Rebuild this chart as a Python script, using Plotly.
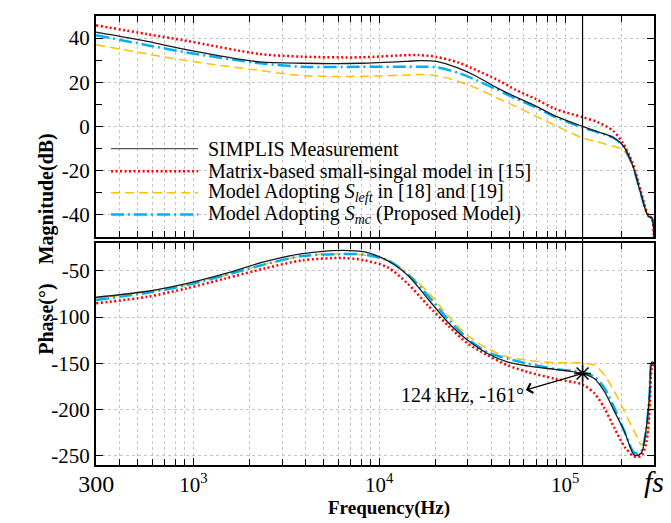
import numpy as np
import plotly.graph_objects as go

# ---------------- data ----------------
freq_mag = [300, 566, 915, 2280, 3870, 7960, 14170, 16400, 20300, 26470, 33650, 42760,
            54460, 69220, 88100, 124000, 149400, 181100, 204300, 230300, 253500, 279000,
            292800, 300000]
mag_simplis = [42.7, 38.5, 34.8, 29.2, 28.6, 28.6, 29.5, 29.8, 29.5, 26.5, 22.5, 17.6,
               13.3, 9.3, 4.8, 0.0, -2.4, -5.0, -8.5, -17.5, -29.5, -40.5, -41.5, -50.0]
mag_matrix = [45.8, 41.8, 38.8, 32.8, 31.6, 31.3, 32.3, 32.3, 31.5, 29.0, 25.3, 21.3,
              16.5, 12.5, 8.0, 4.2, 2.0, -2.0, -7.5, -16.5, -28.5, -40.0, -41.5, -50.0]
mag_sleft = [37.0, 32.8, 29.8, 25.3, 23.0, 22.7, 23.3, 23.5, 23.0, 20.5, 17.2, 13.0,
             9.0, 4.7, 0.5, -5.2, -7.0, -9.0, -10.5, -17.5, -29.5, -40.5, -41.5, -50.0]
mag_smc = [41.3, 36.8, 33.5, 28.6, 27.0, 27.0, 27.0, 27.0, 26.8, 24.3, 20.8, 16.8,
           12.5, 8.7, 4.3, -0.5, -2.6, -5.0, -8.8, -17.5, -29.5, -40.5, -41.5, -50.0]

freq_ph = [300, 566, 915, 1479, 2393, 3870, 6255, 8356, 11100, 14300, 18300, 23400,
           30000, 38400, 49200, 63000, 87800, 124000, 144000, 163000, 184500, 208600,
           236000, 256500, 273000, 284000, 292000, 300000]
ph_simplis = [-78.5, -72.0, -63.7, -52.9, -40.3, -31.3, -27.7, -29.5, -39.0, -55.2, -80.4, -105.5,
              -125.3, -139.6, -148.6, -152.9, -156.5, -161.0, -166.6, -181.0, -202.5, -224.0,
              -249.5, -247.0, -220.0, -184.5, -148.6, -150.0]
ph_matrix = [-85.0, -78.0, -69.0, -58.3, -47.5, -38.5, -36.0, -38.5, -46.2, -64.2, -87.5, -109.0,
             -128.8, -141.4, -152.2, -159.4, -166.6, -173.0, -182.7, -199.0, -220.5, -240.2,
             -251.0, -250.0, -236.0, -202.5, -155.8, -150.0]
ph_sleft = [-79.6, -72.7, -64.7, -54.7, -43.2, -33.8, -31.3, -33.0, -38.5, -53.0, -73.0, -98.3,
            -120.0, -134.2, -143.2, -146.8, -149.3, -149.7, -152.0, -163.0, -181.0, -202.5,
            -224.0, -238.0, -232.0, -205.0, -152.0, -150.0]
ph_smc = [-81.4, -73.7, -65.5, -54.7, -43.2, -33.8, -31.8, -32.4, -38.5, -54.0, -76.8, -101.9,
          -123.5, -138.0, -145.0, -150.4, -156.0, -159.5, -164.7, -177.0, -199.0, -224.0,
          -247.0, -245.0, -220.0, -184.5, -148.6, -150.0]

series_names = ["SIMPLIS Measurement",
                "Matrix-based small-singal model in [15]",
                "Model Adopting <i>S<sub>left</sub></i> in [18] and [19]",
                "Model Adopting <i>S<sub>mc</sub></i> (Proposed Model)"]

mark_freq = 124000
mark_phase = -161
mark_label = "124 kHz, -161°"

x_tickvals = [300, 1000, 10000, 100000, 300000]
x_ticktext = ['<span style="font-size:24px">300</span>', "10<sup>3</sup>", "10<sup>4</sup>",
              "10<sup>5</sup>", '<span style="font-size:30px"><i>fs</i></span>']
x_minor = [400, 500, 600, 700, 800, 900,
           2000, 3000, 4000, 5000, 6000, 7000, 8000, 9000,
           20000, 30000, 40000, 50000, 60000, 70000, 80000, 90000, 200000]
mag_ticks = [-40, -20, 0, 20, 40]
ph_ticks = [-250, -200, -150, -100, -50]

# ---------------- styles ----------------
FONT = "Liberation Serif"
styles = [
    dict(color="#1a1a1a", width=1.3, dash="solid"),
    dict(color="#ff0000", width=2.5, dash="2px,2.5px"),
    dict(color="#ffc000", width=1.5, dash="9px,5px"),
    dict(color="#00b0f0", width=2.5, dash="13px,4px,2px,4px"),
]
legend_colors = ["#555555", "#ff0000", "#ffc000", "#00b0f0"]

fig = go.Figure()
mags = [mag_simplis, mag_matrix, mag_sleft, mag_smc]
phs = [ph_simplis, ph_matrix, ph_sleft, ph_smc]
order = [2, 3, 1, 0]
for i in order:
    fig.add_trace(go.Scatter(x=freq_mag, y=mags[i], mode="lines", name=series_names[i],
                             line=dict(shape="spline", smoothing=0.8, **styles[i]),
                             xaxis="x", yaxis="y", showlegend=False))
for i in order:
    fig.add_trace(go.Scatter(x=freq_ph, y=phs[i], mode="lines", name=series_names[i],
                             line=dict(shape="spline", smoothing=0.8, **styles[i]),
                             xaxis="x2", yaxis="y2", showlegend=False))

fig.add_trace(go.Scatter(x=[mark_freq], y=[mark_phase], mode="markers",
                         marker=dict(symbol="asterisk-open", size=14, color="black",
                                     line=dict(color="black", width=1.5)),
                         xaxis="x2", yaxis="y2", showlegend=False))

grid = "#c4c4c4"
xcommon = dict(type="log", range=[np.log10(299.5), np.log10(300400)],
               tickvals=x_tickvals, ticks="inside", ticklen=7, tickcolor="black",
               showline=True, linewidth=2, linecolor="black", mirror="ticks",
               showgrid=True, gridcolor=grid, griddash="dot", gridwidth=1,
               zeroline=False,
               minor=dict(tickvals=x_minor, ticks="inside", ticklen=6, tickcolor="black",
                          showgrid=True, gridcolor=grid, griddash="dot", gridwidth=1),
               tickfont=dict(family=FONT, size=21, color="black"))
ycommon = dict(ticks="inside", ticklen=7, tickcolor="black",
               showline=True, linewidth=2, linecolor="black", mirror="ticks",
               showgrid=True, gridcolor=grid, griddash="dot", gridwidth=1,
               zeroline=False, tickfont=dict(family=FONT, size=21, color="black"))

fig.update_layout(
    width=671, height=523,
    margin=dict(l=88, r=25, t=6, b=66),
    paper_bgcolor="white", plot_bgcolor="white",
    font=dict(family=FONT, size=20, color="black"),
    xaxis=dict(**xcommon, anchor="y", domain=[0, 1], showticklabels=False),
    xaxis2=dict(**xcommon, anchor="y2", domain=[0, 1], matches="x",
                ticktext=x_ticktext, showticklabels=True),
    yaxis=dict(**ycommon, domain=[0.508, 1], range=[-50, 50], anchor="x",
               tickvals=mag_ticks, ticktext=[str(v) for v in mag_ticks],
               minor=dict(tickvals=[-30, -10, 10, 30], ticks="inside", ticklen=6,
                          tickcolor="black", showgrid=False)),
    yaxis2=dict(**ycommon, domain=[0, 0.494], range=[-260, -20], anchor="x2",
                tickvals=ph_ticks, ticktext=[str(v) for v in ph_ticks]),
)

# vertical marker line across both panels
fig.add_shape(type="line", xref="x", yref="paper", x0=mark_freq, x1=mark_freq,
              y0=0, y1=1, line=dict(color="black", width=1.2))

# arrow from marked point toward the label
fig.add_annotation(xref="x2", yref="y2", axref="x2", ayref="y2",
                   x=np.log10(61400), y=-178.8, ax=np.log10(mark_freq), ay=mark_phase,
                   text="", showarrow=True, arrowhead=4, arrowsize=1.6,
                   arrowwidth=1.2, arrowcolor="black")
fig.add_annotation(xref="x2", yref="y2", x=np.log10(28000), y=-184.2, text=mark_label,
                   showarrow=False, font=dict(family=FONT, size=20, color="black"))

# manual legend (long line samples like the original)
leg_y = [0.7044, 0.6541, 0.6062, 0.5581]
for k in range(4):
    st = styles[k]
    fig.add_shape(type="line", xref="paper", yref="paper", x0=0.027, x1=0.183,
                  y0=leg_y[k], y1=leg_y[k],
                  line=dict(color=legend_colors[k], width=st["width"], dash=st["dash"]))
    fig.add_annotation(xref="paper", yref="paper", x=0.1971, y=leg_y[k], text=series_names[k],
                       showarrow=False, xanchor="left", yanchor="middle",
                       font=dict(family=FONT, size=20, color="black"))

# axis titles
fig.add_annotation(xref="paper", yref="paper", x=-0.113, y=0.743, text="<b>Magnitude(dB)</b>",
                   textangle=-90, showarrow=False, font=dict(family=FONT, size=20, color="black"))
fig.add_annotation(xref="paper", yref="paper", x=-0.113, y=0.241, text="<b>Phase(°)</b>",
                   textangle=-90, showarrow=False, font=dict(family=FONT, size=20, color="black"))
fig.add_annotation(xref="paper", yref="paper", x=0.525, y=-0.124, text="<b>Frequency(Hz)</b>",
                   showarrow=False, font=dict(family=FONT, size=19, color="black"))

fig.write_html("out.html")
